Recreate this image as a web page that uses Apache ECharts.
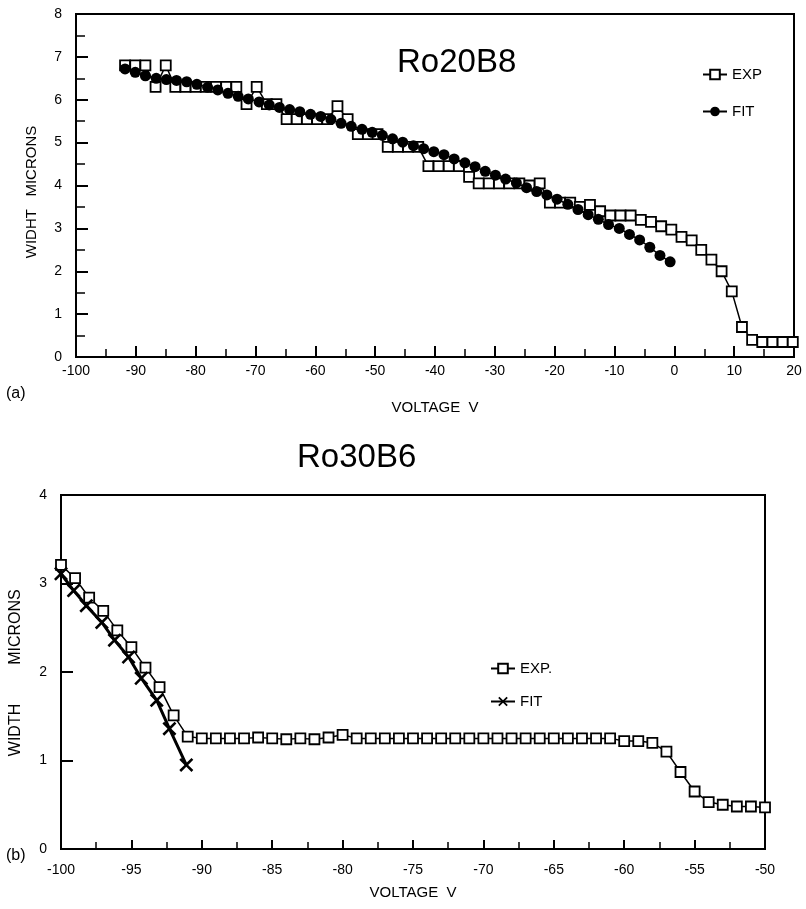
<!DOCTYPE html>
<html>
<head>
<meta charset="utf-8">
<script src="https://cdn.jsdelivr.net/npm/echarts@6/dist/echarts.min.js"></script>
<style>
html,body{margin:0;padding:0;background:#fff;}
#chart{width:806px;height:909px;}
</style>
</head>
<body>
<div id="chart"></div>
<script>
// ---- Panel (a): Ro20B8 ----
var aExpX = [-91.8,-90.1,-88.4,-86.7,-85.0,-83.4,-81.7,-80.0,-78.3,-76.6,-74.9,-73.2,-71.5,-69.8,-68.1,-66.5,-64.8,-63.1,-61.4,-59.7,-58.0,-56.3,-54.6,-52.9,-51.2,-49.6,-47.9,-46.2,-44.5,-42.8,-41.1,-39.4,-37.7,-36.0,-34.3,-32.7,-31.0,-29.3,-27.6,-25.9,-24.2,-22.5,-20.8,-19.1,-17.4,-15.8,-14.1,-12.4,-10.7,-9.0,-7.3,-5.6,-3.9,-2.2,-0.5,1.2,2.9,4.5,6.2,7.9,9.6,11.3,13.0,14.7,16.4,18.1,19.8];
var aExpY = [6.8,6.8,6.8,6.3,6.8,6.3,6.3,6.3,6.3,6.3,6.3,6.3,5.9,6.3,5.9,5.9,5.55,5.55,5.55,5.55,5.55,5.85,5.55,5.2,5.2,5.2,4.9,4.9,4.9,4.9,4.45,4.45,4.45,4.45,4.2,4.05,4.05,4.05,4.05,4.05,4.0,4.05,3.6,3.6,3.6,3.5,3.55,3.4,3.3,3.3,3.3,3.2,3.15,3.05,2.97,2.8,2.72,2.5,2.27,2.0,1.53,0.7,0.4,0.35,0.35,0.35,0.35];
var aFitX = [-91.8,-90.1,-88.4,-86.6,-84.9,-83.2,-81.5,-79.8,-78.0,-76.3,-74.6,-72.9,-71.2,-69.4,-67.7,-66.0,-64.3,-62.6,-60.8,-59.1,-57.4,-55.7,-54.0,-52.2,-50.5,-48.8,-47.1,-45.4,-43.6,-41.9,-40.2,-38.5,-36.8,-35.0,-33.3,-31.6,-29.9,-28.2,-26.4,-24.7,-23.0,-21.3,-19.6,-17.8,-16.1,-14.4,-12.7,-11.0,-9.2,-7.5,-5.8,-4.1,-2.4,-0.7];
var aFitY = [6.72,6.64,6.56,6.50,6.47,6.45,6.42,6.36,6.29,6.23,6.15,6.08,6.02,5.95,5.88,5.82,5.77,5.72,5.66,5.61,5.54,5.45,5.38,5.31,5.24,5.17,5.09,5.01,4.93,4.86,4.79,4.72,4.62,4.53,4.44,4.33,4.24,4.15,4.06,3.95,3.86,3.78,3.68,3.56,3.44,3.32,3.21,3.09,3.00,2.86,2.73,2.56,2.37,2.22];

// ---- Panel (b): Ro30B6 ----
var bExpX = [-100,-99,-98,-97,-96,-95,-94,-93,-92,-91,-90,-89,-88,-87,-86,-85,-84,-83,-82,-81,-80,-79,-78,-77,-76,-75,-74,-73,-72,-71,-70,-69,-68,-67,-66,-65,-64,-63,-62,-61,-60,-59,-58,-57,-56,-55,-54,-53,-52,-51,-50];
var bExpY = [3.21,3.06,2.84,2.69,2.47,2.28,2.05,1.83,1.51,1.27,1.25,1.25,1.25,1.25,1.26,1.25,1.24,1.25,1.24,1.26,1.29,1.25,1.25,1.25,1.25,1.25,1.25,1.25,1.25,1.25,1.25,1.25,1.25,1.25,1.25,1.25,1.25,1.25,1.25,1.25,1.22,1.22,1.2,1.1,0.87,0.65,0.53,0.5,0.48,0.48,0.47];
var bFitX = [-100,-99.1,-98.2,-97.1,-96.2,-95.2,-94.3,-93.2,-92.3,-91.1];
var bFitY = [3.11,2.92,2.75,2.56,2.36,2.17,1.93,1.68,1.36,0.95];

var titleA = 'Ro20B8', titleB = 'Ro30B6';
var xNameA = 'VOLTAGE  V', xNameB = 'VOLTAGE  V';
var yNameA = 'WIDHT   MICRONS';
var yNameB1 = 'MICRONS', yNameB2 = 'WIDTH';

function zip(xs, ys){ return xs.map(function(x,i){ return [x, ys[i]]; }); }

var FONT = 'Liberation Sans, Arial, sans-serif';
var crossPath = 'path://M0,1.3 L1.3,0 L5,3.7 L8.7,0 L10,1.3 L6.3,5 L10,8.7 L8.7,10 L5,6.3 L1.3,10 L0,8.7 L3.7,5 Z';

function axisCommon(){
  return {
    axisLine:{show:true, onZero:false, lineStyle:{color:'#000', width:2}},
    axisTick:{show:true, inside:true, lineStyle:{color:'#000', width:2}},
    minorTick:{show:true, splitNumber:2, length:6, lineStyle:{color:'#000', width:1.5}},
    splitLine:{show:false},
    axisLabel:{color:'#000', fontFamily:FONT, fontSize:14}
  };
}

var xa0 = Object.assign(axisCommon(), {type:'value', gridIndex:0, min:-100, max:20, interval:10});
xa0.axisTick.length = 11; xa0.minorTick.length = 8; xa0.axisLabel.margin = 7;
var ya0 = Object.assign(axisCommon(), {type:'value', gridIndex:0, min:0, max:8, interval:1});
ya0.axisTick.length = 12; ya0.minorTick.length = 9; ya0.axisLabel.margin = 14;
var xa1 = Object.assign(axisCommon(), {type:'value', gridIndex:1, min:-100, max:-50, interval:5});
xa1.axisTick.length = 9; xa1.minorTick.length = 7; xa1.axisLabel.margin = 14;
var ya1 = Object.assign(axisCommon(), {type:'value', gridIndex:1, min:0, max:4, interval:1});
ya1.axisTick.length = 12; ya1.minorTick = {show:false}; ya1.axisLabel.margin = 14;

var chart = echarts.init(document.getElementById('chart'), null, {renderer:'canvas'});
chart.setOption({
  animation:false,
  backgroundColor:'#fff',
  grid:[
    {left:76, top:14, width:718, height:343, show:true, borderColor:'#000', borderWidth:2, containLabel:false},
    {left:61, top:495, width:704, height:354, show:true, borderColor:'#000', borderWidth:2, containLabel:false}
  ],
  xAxis:[xa0, xa1],
  yAxis:[ya0, ya1],
  legend:[
    {data:['EXP','FIT'], orient:'vertical', left:697, top:62, itemGap:22, itemWidth:24, itemHeight:12,
     textStyle:{fontFamily:FONT, fontSize:15, color:'#000'}, selectedMode:false},
    {data:['EXP.','FIT '], orient:'vertical', left:485, top:656, itemGap:18, itemWidth:24, itemHeight:12,
     textStyle:{fontFamily:FONT, fontSize:15, color:'#000'}, selectedMode:false}
  ],
  graphic:[
    {type:'text', left:397, top:46, style:{text:titleA, font:'33px '+FONT, fill:'#000'}},
    {type:'text', left:297, top:441, style:{text:titleB, font:'33px '+FONT, fill:'#000'}},
    {type:'text', left:6, top:386, style:{text:'(a)', font:'16px '+FONT, fill:'#000'}},
    {type:'text', left:6, top:848, style:{text:'(b)', font:'16px '+FONT, fill:'#000'}},
    {type:'text', x:435, y:408, style:{text:xNameA, font:'15px '+FONT, fill:'#000', textAlign:'center', textVerticalAlign:'middle'}},
    {type:'text', x:413, y:893, style:{text:xNameB, font:'15px '+FONT, fill:'#000', textAlign:'center', textVerticalAlign:'middle'}},
    {type:'text', x:32, y:192, rotation:Math.PI/2, style:{text:yNameA, font:'15px '+FONT, fill:'#000', textAlign:'center', textVerticalAlign:'middle'}},
    {type:'text', x:16, y:627, rotation:Math.PI/2, style:{text:yNameB1, font:'16px '+FONT, fill:'#000', textAlign:'center', textVerticalAlign:'middle'}},
    {type:'text', x:16, y:730, rotation:Math.PI/2, style:{text:yNameB2, font:'16px '+FONT, fill:'#000', textAlign:'center', textVerticalAlign:'middle'}}
  ],
  series:[
    {name:'EXP', type:'line', xAxisIndex:0, yAxisIndex:0, data:zip(aExpX,aExpY),
     symbol:'rect', symbolSize:10, showAllSymbol:true,
     lineStyle:{color:'#000', width:1.5}, itemStyle:{color:'#fff', borderColor:'#000', borderWidth:1.8}, z:2},
    {name:'FIT', type:'line', xAxisIndex:0, yAxisIndex:0, data:zip(aFitX,aFitY),
     symbol:'circle', symbolSize:11, showAllSymbol:true,
     lineStyle:{color:'#000', width:1.5}, itemStyle:{color:'#000', borderColor:'#000', borderWidth:0}, z:3},
    {name:'EXP.', type:'line', xAxisIndex:1, yAxisIndex:1, data:zip(bExpX,bExpY),
     symbol:'rect', symbolSize:10, showAllSymbol:true,
     lineStyle:{color:'#000', width:1.5}, itemStyle:{color:'#fff', borderColor:'#000', borderWidth:1.8}, z:2},
    {name:'FIT ', type:'line', xAxisIndex:1, yAxisIndex:1, data:zip(bFitX,bFitY),
     symbol:crossPath, symbolSize:14, showAllSymbol:true,
     lineStyle:{color:'#000', width:3}, itemStyle:{color:'#000'}, z:3}
  ]
});
</script>
</body>
</html>
